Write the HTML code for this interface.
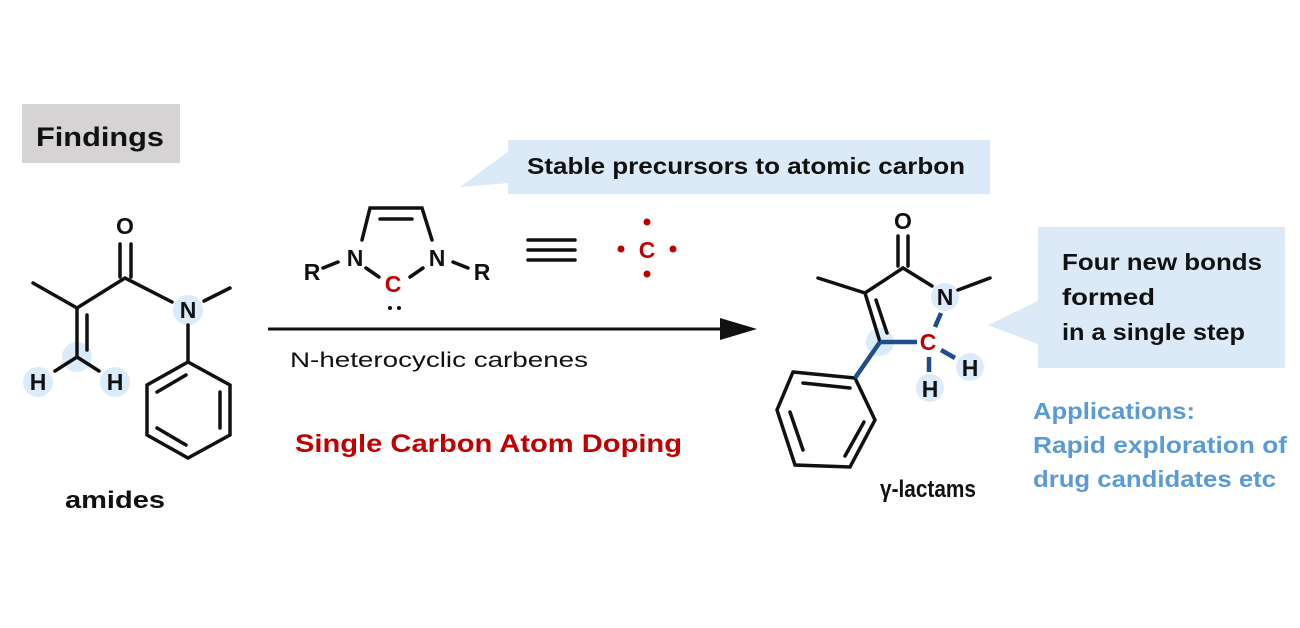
<!DOCTYPE html>
<html><head><meta charset="utf-8"><style>
html,body{margin:0;padding:0;background:#fff}
svg{display:block}
text{font-family:"Liberation Sans",sans-serif}
.b{font-weight:bold}
</style></head><body>
<svg width="1300" height="628" viewBox="0 0 1300 628" xmlns="http://www.w3.org/2000/svg">
<rect x="22" y="104" width="158" height="59" fill="#d5d3d4"/>
<text x="36" y="146" font-size="27" class="b" fill="#111" textLength="128" lengthAdjust="spacingAndGlyphs">Findings</text>

<polygon points="460,187 510,150 510,183" fill="#dce9f6"/>
<rect x="508" y="140" width="482" height="54" fill="#dce9f6"/>
<text x="527" y="174" font-size="23" class="b" fill="#111" textLength="438" lengthAdjust="spacingAndGlyphs">Stable precursors to atomic carbon</text>

<polygon points="988,325 1040,300 1040,345" fill="#dce9f6"/>
<rect x="1038" y="227" width="247" height="141" fill="#dce9f6"/>
<g font-size="23" class="b" fill="#111">
<text x="1062" y="270" textLength="200" lengthAdjust="spacingAndGlyphs">Four new bonds</text>
<text x="1062" y="305" textLength="93" lengthAdjust="spacingAndGlyphs">formed</text>
<text x="1062" y="340" textLength="183" lengthAdjust="spacingAndGlyphs">in a single step</text>
</g>
<g font-size="23" class="b" fill="#5b9bd5">
<text x="1033" y="419" textLength="162" lengthAdjust="spacingAndGlyphs">Applications:</text>
<text x="1033" y="453" textLength="254" lengthAdjust="spacingAndGlyphs">Rapid exploration of</text>
<text x="1033" y="487" textLength="243" lengthAdjust="spacingAndGlyphs">drug candidates etc</text>
</g>

<g fill="#dcebf9">
<circle cx="188" cy="310" r="15"/><circle cx="77" cy="357" r="15"/>
<circle cx="38" cy="382" r="15"/><circle cx="115" cy="382" r="15"/>
</g>
<g stroke="#111" stroke-width="3.5" fill="none" stroke-linecap="round">
<line x1="120" y1="244" x2="120" y2="277"/><line x1="131" y1="244" x2="131" y2="277"/>
<polyline points="33,283 77,308 125,278 172,302"/>
<line x1="204" y1="301" x2="230" y2="288"/>
<line x1="77" y1="308" x2="77" y2="355"/><line x1="87" y1="315" x2="87" y2="350"/>
<line x1="77" y1="357" x2="55" y2="371"/><line x1="77" y1="357" x2="99" y2="371"/>
<line x1="188" y1="325" x2="188" y2="362"/>
<polygon points="188,362 147,385 147,435 188,458 230,435 230,385"/>
<line x1="157" y1="392" x2="186" y2="375"/><line x1="220" y1="392" x2="220" y2="428"/><line x1="157" y1="428" x2="186" y2="445"/>
</g>
<g font-size="23" class="b" fill="#111" text-anchor="middle">
<text x="125" y="234">O</text><text x="188" y="318">N</text>
<text x="38" y="390">H</text><text x="115" y="390">H</text>
</g>
<text x="65" y="508" font-size="24" class="b" fill="#111" textLength="100" lengthAdjust="spacingAndGlyphs">amides</text>

<line x1="268" y1="329" x2="725" y2="329" stroke="#111" stroke-width="3"/>
<polygon points="757,329 720,318 720,340" fill="#111"/>
<text x="290" y="367" font-size="21" fill="#111" textLength="298" lengthAdjust="spacingAndGlyphs">N-heterocyclic carbenes</text>
<text x="295" y="452" font-size="25" class="b" fill="#c00000" textLength="387" lengthAdjust="spacingAndGlyphs">Single Carbon Atom Doping</text>

<g stroke="#111" stroke-width="3.5" fill="none" stroke-linecap="round">
<polyline points="362,240 370,208 422,208 432,240"/>
<line x1="380" y1="219" x2="412" y2="219"/>
<line x1="323" y1="268" x2="338" y2="262"/><line x1="453" y1="262" x2="468" y2="268"/>
<line x1="366" y1="268" x2="379" y2="277"/><line x1="410" y1="277" x2="423" y2="268"/>
<line x1="528" y1="240" x2="575" y2="240"/><line x1="528" y1="250" x2="575" y2="250"/><line x1="528" y1="260" x2="575" y2="260"/>
</g>
<g font-size="23" class="b" fill="#111" text-anchor="middle">
<text x="312" y="280">R</text><text x="355" y="266">N</text><text x="437" y="266">N</text><text x="482" y="280">R</text>
</g>
<text x="393" y="292" font-size="23" class="b" fill="#c00000" text-anchor="middle">C</text>
<circle cx="390" cy="308" r="2" fill="#111"/><circle cx="399" cy="308" r="2" fill="#111"/>
<text x="647" y="258" font-size="23" class="b" fill="#c00000" text-anchor="middle">C</text>
<g fill="#c00000"><circle cx="647" cy="222" r="3.5"/><circle cx="621" cy="249" r="3.5"/><circle cx="673" cy="249" r="3.5"/><circle cx="647" cy="274" r="3.5"/></g>

<g fill="#dcebf9">
<circle cx="945" cy="297" r="14"/><circle cx="880" cy="342" r="14"/>
<circle cx="930" cy="388" r="14"/><circle cx="970" cy="367" r="14"/>
</g>
<g stroke="#111" stroke-width="3.5" fill="none" stroke-linecap="round">
<line x1="898" y1="236" x2="898" y2="266"/><line x1="908" y1="236" x2="908" y2="266"/>
<polyline points="818,278 865,293 903,268 932,286"/>
<line x1="958" y1="290" x2="990" y2="278"/>
<line x1="865" y1="293" x2="880" y2="342"/><line x1="876" y1="300" x2="887" y2="333"/>
<polygon points="855,378 793,372 777,410 795,465 850,467 875,420"/>
<line x1="803" y1="383" x2="850" y2="388"/><line x1="790" y1="412" x2="803" y2="450"/><line x1="845" y1="456" x2="864" y2="422"/>
</g>
<g stroke="#1f4e8c" stroke-width="4.5" fill="none">
<line x1="880" y1="342" x2="917" y2="342"/><line x1="880" y1="342" x2="855" y2="378"/>
<line x1="941" y1="313" x2="935" y2="327"/>
<line x1="929" y1="357" x2="929" y2="372"/>
<line x1="941" y1="350" x2="955" y2="358"/>
</g>
<g font-size="23" class="b" fill="#111" text-anchor="middle">
<text x="903" y="229">O</text><text x="945" y="305">N</text>
<text x="930" y="397">H</text><text x="970" y="376">H</text>
</g>
<text x="928" y="350" font-size="23" class="b" fill="#c00000" text-anchor="middle">C</text>
<text x="880" y="497" font-size="24" class="b" fill="#111" textLength="96" lengthAdjust="spacingAndGlyphs">γ-lactams</text>
</svg>
</body></html>
